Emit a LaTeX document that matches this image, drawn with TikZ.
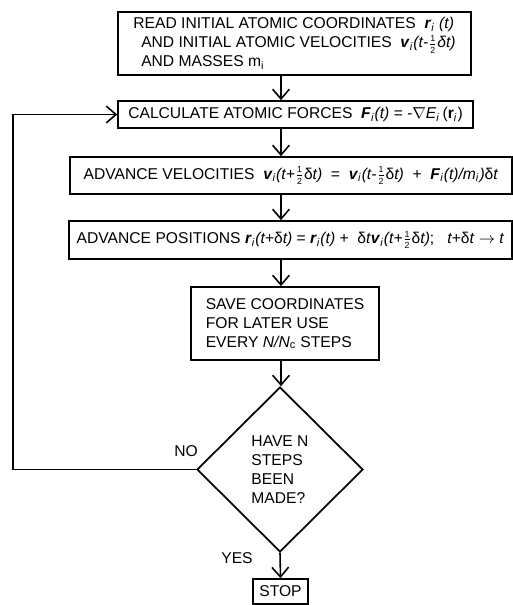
\documentclass[tikz,border=0pt]{standalone}
\usepackage{fontspec}
\setmainfont{Liberation Sans}
\usepackage{tikz}
\usetikzlibrary{positioning,arrows.meta,calc,shapes.geometric}
\newcommand{\vb}[1]{\textbf{\textit{#1}}}
\newcommand{\sbi}{\textsubscript{\textit{i}}}
\newcommand{\hf}{$\frac{\mbox{\tiny 1}}{\mbox{\tiny 2}}$}

\begin{document}
\begin{tikzpicture}[x=0.02cm,y=-0.02cm,font=\fontsize{8.9}{10.8}\selectfont,
 box/.style={draw,line width=1pt,inner sep=2pt,align=center},
 decide/.style={draw,line width=1pt,diamond,inner sep=0pt,minimum width=3.32cm,minimum height=3.3cm,align=left},
 arr/.style={-{Straight Barb[length=5.5pt,width=9.5pt]},line width=0.9pt}]
\useasboundingbox (0,0) rectangle (513,605);
\coordinate (col) at (281,0); \coordinate (back) at (13,0);
\node[box,align=left,minimum width=7.06cm,minimum height=1.26cm] (read) at (294.5,43.5) {READ INITIAL ATOMIC COORDINATES~~\vb{r}\sbi\ \textit{(t)}\\\hspace*{0.5em}AND INITIAL ATOMIC VELOCITIES~~\vb{v}\sbi\textit{(t-}\hf\textit{δt)}\\\hspace*{0.5em}AND MASSES m\textsubscript{i}};
\node[box,minimum width=7.1cm,minimum height=0.54cm] (forces) at (295.5,114.5) {CALCULATE ATOMIC FORCES~~\vb{F}\sbi\textit{(t) = -}$\nabla$\textit{E}\sbi\,(\textbf{r}\sbi)};
\node[box,minimum width=8.84cm,minimum height=0.74cm] (vel) at (291,175.5) {ADVANCE VELOCITIES~~\vb{v}\sbi\textit{(t+}\hf δ\textit{t)}~~=~~\vb{v}\sbi\textit{(t-}\hf δ\textit{t)}~~+~~\vb{F}\sbi\textit{(t)/m}\sbi\textit{)}δ\textit{t}};
\node[box,minimum width=8.86cm,minimum height=0.76cm] (pos) at (290.5,240) {ADVANCE POSITIONS \vb{r}\sbi\textit{(t+}δ\textit{t)} = \vb{r}\sbi\textit{(t)} +~~δ\textit{t}\vb{v}\sbi\textit{(t+}\hf δ\textit{t)};~~~\textit{t+}δ\textit{t} $\rightarrow$ \textit{t}};
\node[box,align=left,minimum width=3.76cm,minimum height=1.46cm] (save) at (285,323.5) {SAVE COORDINATES\\FOR LATER USE\\EVERY \textit{N/N}\textsubscript{c} STEPS};
\node[decide] (test) at (280,469.5) {HAVE N\\STEPS\\BEEN\\MADE?};
\node[box,minimum width=1.1cm,minimum height=0.5cm] (stop) at (280.5,591.5) {STOP};
\draw[arr] (read.south -| col) -- (forces.north -| col);
\draw[arr] (forces.south -| col) -- (vel.north -| col);
\draw[arr] (vel.south -| col) -- (pos.north -| col);
\draw[arr] (pos.south -| col) -- (save.north -| col);
\draw[arr] (save.south -| col) -- (test.north -| col);
\draw[arr] (test.west) -- (test.west -| back) |- (forces.west);
\node (no) at (186,451) {NO};
\node (yes) at (237,558) {YES};
\draw[arr] (test.south) -- (stop.north);
\end{tikzpicture}
\end{document}
